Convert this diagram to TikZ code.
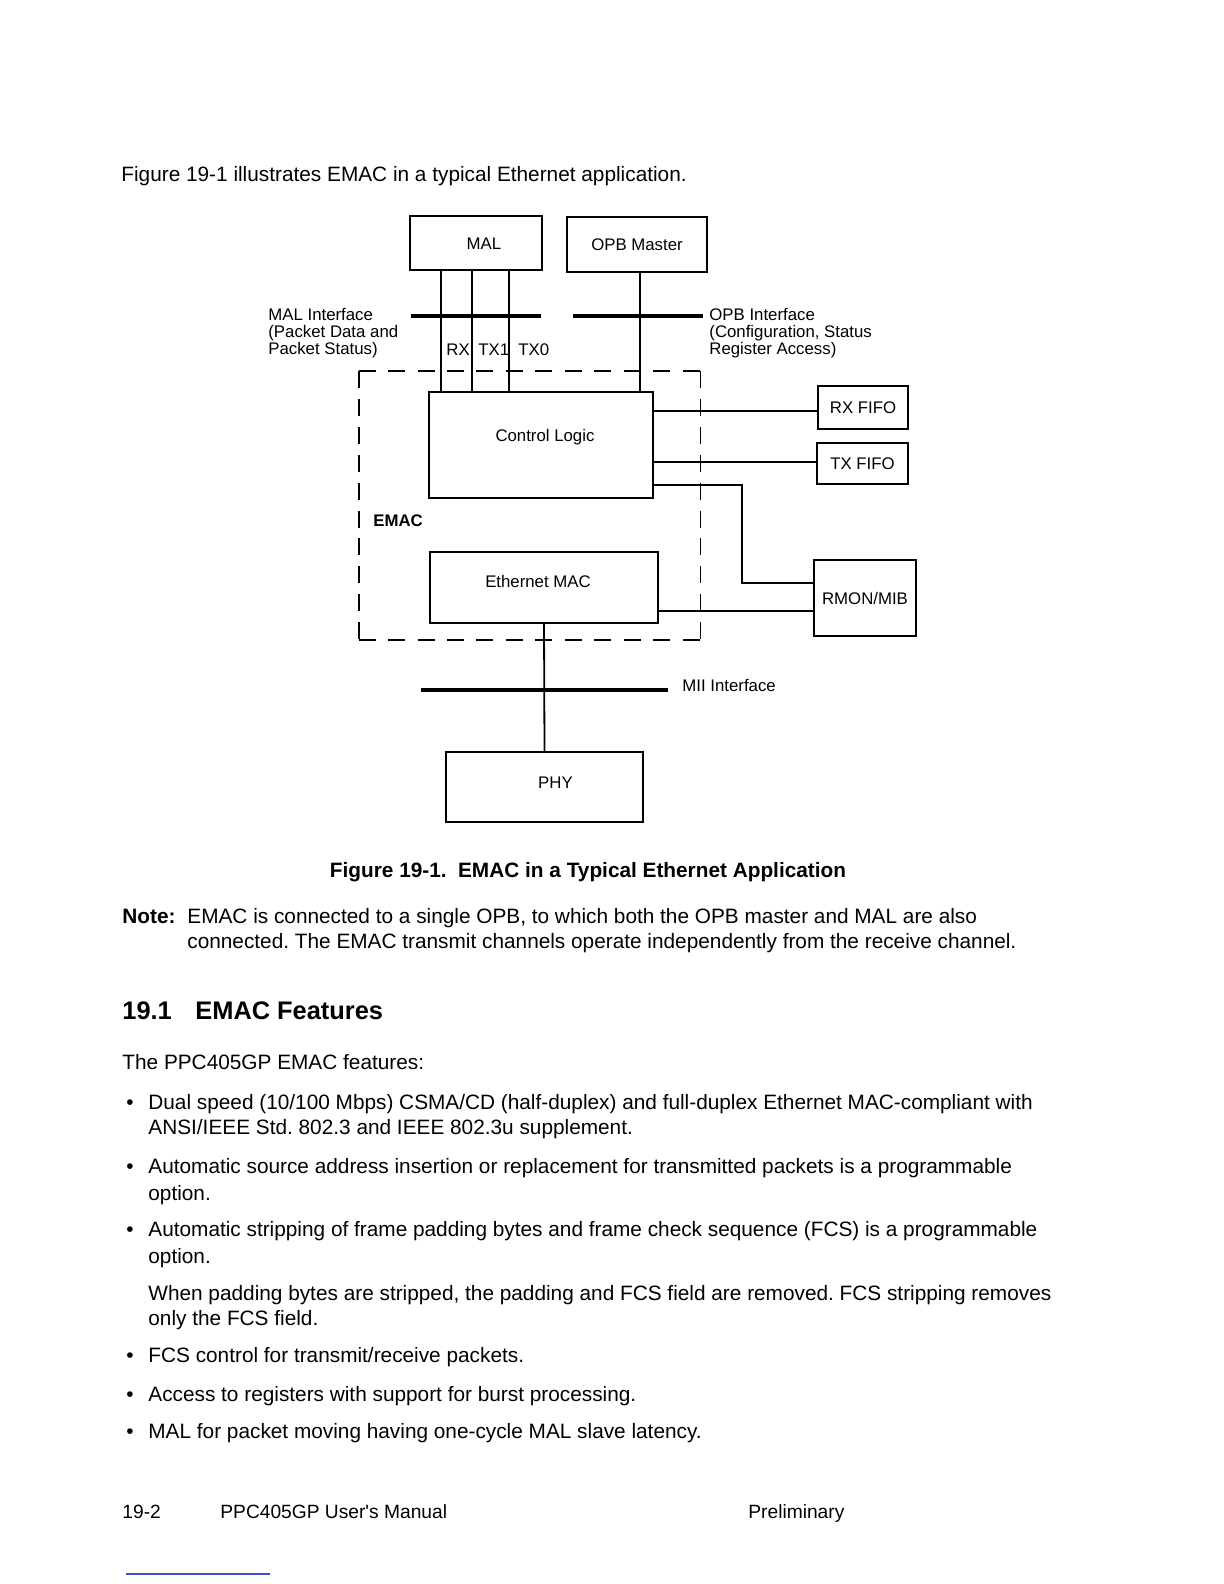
\documentclass[tikz,border=0pt]{standalone}
\usepackage{fontspec}
\setmainfont{Liberation Sans}
\newcommand\diagfont{\fontsize{8.4}{8.5}\selectfont}
\newcommand\bodyfont{\fontsize{10.4}{12.5}\selectfont\frenchspacing}
\newcommand\footfont{\fontsize{9.6}{12}\selectfont}
\newcommand\headfont{\fontsize{12.7}{15}\selectfont\bfseries}
\definecolor{footblue}{RGB}{60,80,200}
\begin{document}
\begin{tikzpicture}[x=0.5pt,y=-0.5pt,
  box/.style={draw,line width=1pt,inner sep=0,align=center,font=\diagfont},
  wire/.style={line width=0.9pt},
  bus/.style={line width=2.4pt},
  hdash/.style={line width=0.9pt,dash pattern=on 8.5pt off 6.227pt},
  vdash/.style={line width=0.9pt,dash pattern=on 8.5pt off 5.444pt},
  dlbl/.style={inner sep=0,anchor=mid west,font=\diagfont},
  btxt/.style={inner sep=0,anchor=mid west,font=\bodyfont,yshift=-1.3pt},
]
\useasboundingbox (0,0) rectangle (1224,1584);

% ---------- diagram boxes ----------
\node[box,minimum width=66pt,minimum height=27pt,
  label={[font=\diagfont,xshift=4pt,yshift=-0.5pt]center:MAL}] (mal) at (476,243) {};
\node[box,minimum width=70pt,minimum height=27.5pt] (opb) at (637,244.5) {OPB Master};
\node[box,minimum width=112pt,minimum height=53pt,
  label={[font=\diagfont,xshift=2pt,yshift=4pt]center:Control Logic}] (cl) at (541,445) {};
\node[box,minimum width=45pt,minimum height=21.5pt] (rxf) at (863,407.5) {RX FIFO};
\node[box,minimum width=45.5pt,minimum height=20.5pt] (txf) at (862.5,463.5) {TX FIFO};
\node[box,minimum width=51pt,minimum height=38pt] (rmon) at (865,598) {RMON/MIB};
\node[box,minimum width=114pt,minimum height=35.5pt,
  label={[font=\diagfont,xshift=-3pt,yshift=3pt]center:Ethernet MAC}] (emac) at (544,587.5) {};
\node[box,minimum width=98.5pt,minimum height=35pt,
  label={[font=\diagfont,xshift=5.5pt,yshift=2pt]center:PHY}] (phy) at (544.5,787) {};

% EMAC block (dashed outline, solid corners)
\node[inner sep=0,minimum width=170.5pt,minimum height=134pt] (emacblk) at (529.5,505.5) {};
\draw[hdash] (emacblk.north west) -- (emacblk.north east);
\draw[hdash] (emacblk.south west) -- (emacblk.south east);
\draw[vdash] (emacblk.north west) -- (emacblk.south west);
\draw[vdash] (emacblk.north east) -- (emacblk.south east);
\node[dlbl,font=\diagfont\bfseries] (emaclbl) at (373,521) {EMAC};

% ---------- connectors ----------
\coordinate (xrx) at (441,0);
\coordinate (xtxa) at (472,0);
\coordinate (xtxb) at (509,0);
\coordinate (xopb) at (640,0);
\draw[wire] (mal.south -| xrx) -- (cl.north -| xrx);
\draw[wire] (mal.south -| xtxa) -- (cl.north -| xtxa);
\draw[wire] (mal.south -| xtxb) -- (cl.north -| xtxb);
\draw[wire] (opb.south -| xopb) -- (cl.north -| xopb);

\coordinate (yrx) at (0,411);
\coordinate (ytx) at (0,462);
\coordinate (rmA) at (742,485);
\coordinate (rmB) at (742,583);
\coordinate (yem) at (0,611);
\draw[wire] (cl.east |- yrx) -- (rxf.west |- yrx);
\draw[wire] (cl.east |- ytx) -- (txf.west |- ytx);
\draw[wire] (cl.east |- rmA) -- (rmA) -- (rmB) -- (rmon.west |- rmB);
\draw[wire] (emac.east |- yem) -- (rmon.west |- yem);
\draw[wire] (emac.south) -- (phy.north);

% ---------- buses ----------
\coordinate (malbusA) at (411,316);
\coordinate (malbusB) at (541,316);
\coordinate (opbbusA) at (573,316);
\coordinate (opbbusB) at (703,316);
\coordinate (miibusA) at (421,690);
\coordinate (miibusB) at (668,690);
\draw[bus] (malbusA) -- (malbusB);
\draw[bus] (opbbusA) -- (opbbusB);
\draw[bus] (miibusA) -- (miibusB);

% ---------- diagram labels ----------
\node[dlbl] (malif1) at (268,315) {MAL Interface};
\node[dlbl] (malif2) at (268,332) {(Packet Data and};
\node[dlbl] (malif3) at (268,349) {Packet Status)};
\node[dlbl] (opbif1) at (709,315) {OPB Interface};
\node[dlbl] (opbif2) at (709,332) {(Configuration, Status};
\node[dlbl] (opbif3) at (709,349) {Register Access)};
\node[dlbl] (rxl) at (446,350) {RX};
\node[dlbl] (tx1l) at (478,350) {TX1};
\node[dlbl] (tx0l) at (518,350) {TX0};
\node[dlbl] (miil) at (682,686) {MII Interface};

% ---------- page text ----------
\node[btxt] (intro) at (121,174) {Figure 19-1 illustrates EMAC in a typical Ethernet application.};
\node[inner sep=0,font=\bodyfont\bfseries,yshift=-1pt] (caption) at (588,870) {Figure 19-1.\hspace{0.55em}EMAC in a Typical Ethernet Application};
\node[btxt,font=\bodyfont\bfseries] (notel) at (122,916) {Note:};
\node[btxt] (note1) at (187,916) {EMAC is connected to a single OPB, to which both the OPB master and MAL are also};
\node[btxt] (note2) at (187,941) {connected. The EMAC transmit channels operate independently from the receive channel.};
\node[btxt,font=\headfont] (secnum) at (122,1012) {19.1};
\node[btxt,font=\headfont] (sectitle) at (195,1012) {EMAC Features};
\node[btxt] (lead) at (122,1062) {The PPC405GP EMAC features:};

\node[btxt] (b1) at (126,1102) {•};
\node[btxt] (t1a) at (148,1102) {Dual speed (10/100 Mbps) CSMA/CD (half-duplex) and full-duplex Ethernet MAC-compliant with};
\node[btxt] (t1b) at (148,1127) {ANSI/IEEE Std. 802.3 and IEEE 802.3u supplement.};
\node[btxt] (b2) at (126,1166) {•};
\node[btxt] (t2a) at (148,1166) {Automatic source address insertion or replacement for transmitted packets is a programmable};
\node[btxt] (t2b) at (148,1193) {option.};
\node[btxt] (b3) at (126,1229) {•};
\node[btxt] (t3a) at (148,1229) {Automatic stripping of frame padding bytes and frame check sequence (FCS) is a programmable};
\node[btxt] (t3b) at (148,1256) {option.};
\node[btxt] (p3a) at (148,1293) {When padding bytes are stripped, the padding and FCS field are removed. FCS stripping removes};
\node[btxt] (p3b) at (148,1318) {only the FCS field.};
\node[btxt] (b4) at (126,1355) {•};
\node[btxt] (t4) at (148,1355) {FCS control for transmit/receive packets.};
\node[btxt] (b5) at (126,1394) {•};
\node[btxt] (t5) at (148,1394) {Access to registers with support for burst processing.};
\node[btxt] (b6) at (126,1431) {•};
\node[btxt] (t6) at (148,1431) {MAL for packet moving having one-cycle MAL slave latency.};

\node[btxt,font=\footfont] (fnum) at (122,1511) {19-2};
\node[btxt,font=\footfont] (ftitle) at (220,1511) {PPC405GP User\textquotesingle s Manual};
\node[btxt,font=\footfont] (fprel) at (748,1511) {Preliminary};
\coordinate (blueA) at (126,1574);
\coordinate (blueB) at (270,1574);
\draw[footblue,line width=0.8pt] (blueA) -- (blueB);
\end{tikzpicture}
\end{document}
